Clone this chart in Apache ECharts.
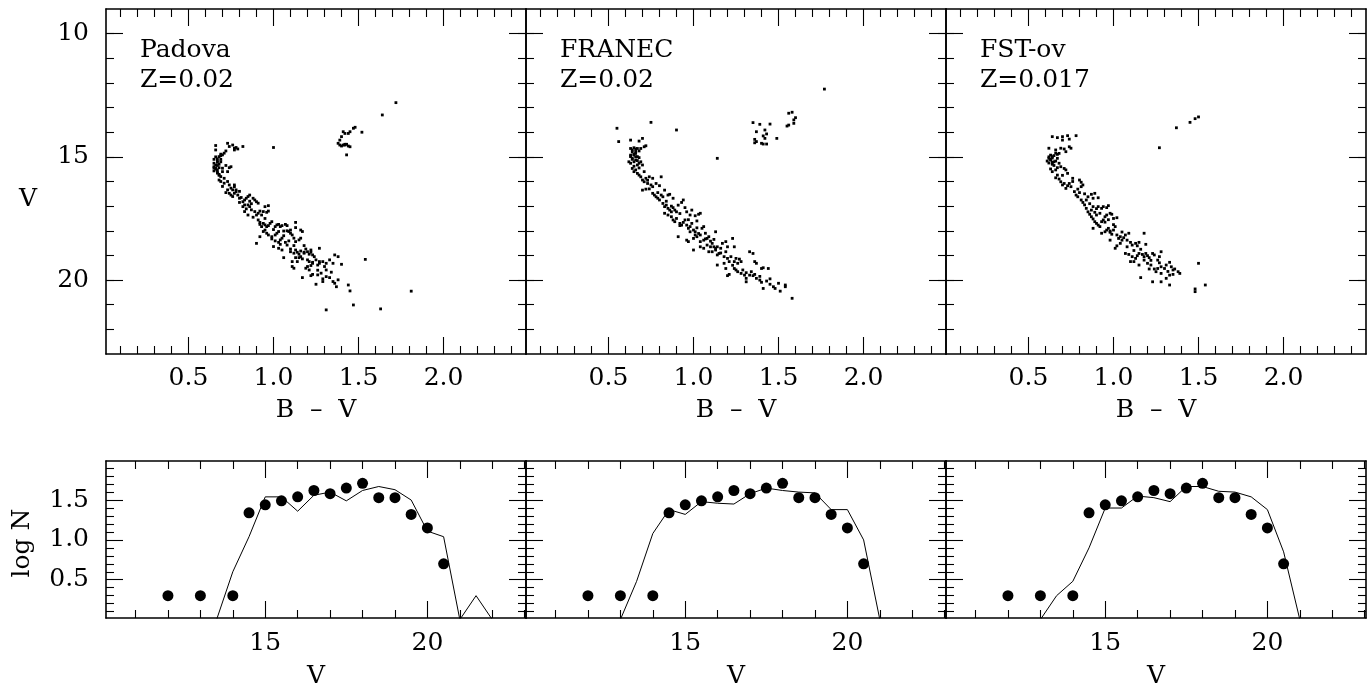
<!DOCTYPE html>
<html>
<head>
<meta charset="utf-8">
<title>CMD and luminosity functions</title>
<script src="https://cdn.jsdelivr.net/npm/echarts@6/dist/echarts.min.js"></script>
<style>
  html, body { margin: 0; padding: 0; background: #fff; }
  #chart { width: 1367px; height: 690px; }
</style>
</head>
<body>
<div id="chart"></div>
<script>
// panel titles
var models = ['Padova', 'FRANEC', 'FST-ov'];
var metals = ['Z=0.02', 'Z=0.02', 'Z=0.017'];

// synthetic CMDs, [B-V, V]
var cmdPadova = [
  [0.66,14.54],[0.66,14.72],[0.73,14.45],[0.74,14.58],[0.76,14.52],[0.77,14.65],[0.77,14.72],[0.78,14.62],[0.79,14.68],[0.82,14.58],
  [0.72,14.76],[0.69,14.89],[0.68,14.99],[0.67,15.08],[0.67,15.17],[0.69,14.95],[0.70,14.92],[0.71,14.85],[0.65,15.26],[0.65,15.40],
  [0.66,15.46],[0.66,15.33],[0.67,15.22],[0.68,15.30],[0.65,15.57],[0.67,15.63],[0.68,15.71],[0.67,15.53],[0.68,15.44],[0.70,15.46],
  [0.72,15.35],[0.74,15.44],[0.75,15.40],[0.73,15.60],[0.69,15.80],[0.68,15.94],[0.69,16.00],[0.71,16.07],[0.71,15.87],[0.73,16.00],
  [0.65,15.10],[0.66,15.00],[0.67,15.35],[0.66,15.50],[0.67,15.66],[0.69,15.20],[0.70,15.60],[0.68,15.75],[0.65,15.45],[0.69,15.10],
  [0.74,16.14],[0.75,16.27],[0.76,16.34],[0.77,16.21],[0.77,16.14],[0.78,16.41],[0.73,16.34],[0.74,16.48],[0.75,16.55],[0.76,16.61],
  [0.77,16.48],[0.78,16.34],[0.79,16.55],[0.80,16.68],[0.81,16.65],[0.82,16.82],[0.83,16.75],[0.84,16.68],[0.85,16.61],[0.86,16.55],
  [0.88,16.68],[0.89,16.75],[0.90,16.82],[0.91,16.88],[0.83,16.95],[0.82,17.02],[0.83,17.22],[0.84,17.11],[0.85,17.36],[0.85,16.95],
  [0.86,17.02],[0.87,17.15],[0.89,17.22],[0.90,17.36],[0.91,17.29],[0.92,17.20],[0.93,17.36],[0.94,17.22],[0.95,17.02],[0.97,16.98],
  [0.96,17.25],[0.97,17.20],[0.91,17.56],[0.92,17.66],[0.92,17.74],[0.93,17.83],[0.94,17.70],[0.95,17.76],[0.96,17.83],[0.97,17.79],
  [0.98,17.70],[0.99,17.63],[1.01,17.83],[1.02,17.76],[1.03,17.74],[1.04,17.83],[1.05,17.79],[1.07,17.74],[1.08,17.79],[1.13,17.66],
  [1.13,17.87],[1.10,17.97],[1.11,18.17],[1.10,18.10],[1.09,18.03],[1.06,18.01],[1.03,18.03],[1.02,18.10],[1.01,18.17],[0.99,18.24],
  [0.99,18.33],[1.01,18.41],[1.03,18.47],[1.04,18.37],[1.05,18.30],[1.07,18.47],[1.08,18.58],[1.09,18.41],[1.12,18.30],[1.13,18.44],
  [1.15,18.37],[1.16,18.30],[1.16,17.97],[1.17,18.03],[0.90,18.51],[0.92,18.24],[0.94,18.03],[0.95,17.97],[0.96,18.10],[0.97,18.17],
  [1.00,18.64],[1.03,18.71],[1.05,18.78],[1.06,19.09],[1.10,18.74],[1.10,18.85],[1.12,18.91],[1.13,18.78],[1.14,18.87],[1.15,18.95],
  [1.16,18.82],[1.18,18.91],[1.18,18.87],[1.19,18.74],[1.20,18.85],[1.21,18.95],[1.22,18.87],[1.23,18.98],[1.17,19.14],[1.16,19.05],
  [1.15,19.09],[1.13,19.09],[1.20,19.18],[1.21,19.25],[1.23,19.28],[1.25,19.18],[1.27,19.25],[1.27,18.71],[1.22,18.78],[1.11,19.25],
  [1.11,19.45],[1.12,19.52],[1.19,19.52],[1.22,19.41],[1.23,19.32],[1.26,19.39],[1.27,19.32],[1.29,19.25],[1.31,19.32],[1.33,19.18],
  [1.36,18.98],[1.38,19.05],[1.40,19.36],[1.35,19.32],[1.34,19.68],[1.31,19.59],[1.28,19.72],[1.26,19.79],[1.23,19.77],[1.21,19.59],
  [1.20,19.45],[1.17,19.90],[1.22,19.82],[1.25,20.17],[1.29,20.06],[1.31,19.86],[1.35,20.06],[1.36,20.13],[1.38,19.99],[1.37,20.27],
  [1.44,20.20],[1.45,20.44],[1.54,19.16],[1.47,21.01],[1.31,21.21],[1.63,21.17],[1.00,14.62],[1.81,20.45],
  [0.70,16.20],[0.72,16.45],[0.80,16.40],[0.87,16.90],[0.88,17.45],[0.95,17.50],[1.00,17.95],[1.06,18.20],[1.08,18.00],[1.12,18.60],
  [1.18,18.60],[1.24,19.05],[1.30,19.45],[1.26,19.60],[1.33,19.90],[1.29,19.95],[0.80,16.85],[0.86,16.80],[1.04,18.55],[1.14,19.25],
  [1.39,14.32],[1.40,14.18],[1.41,13.98],[1.42,14.05],[1.44,14.05],[1.45,13.98],[1.47,13.84],[1.48,13.80],[1.52,14.00],[1.38,14.45],
  [1.39,14.52],[1.40,14.56],[1.42,14.52],[1.43,14.49],[1.44,14.56],[1.45,14.59],[1.43,14.92],[1.41,14.52],[1.42,14.49],[1.64,13.30],
  [1.72,12.80]
];

var cmdFranec = [
  [0.55,13.84],[0.56,14.38],[0.75,13.60],[0.90,13.91],[1.14,15.06],
  [0.63,14.32],[0.68,14.36],[0.70,14.25],[0.63,14.66],[0.64,14.72],[0.65,14.63],[0.66,14.68],[0.67,14.66],[0.68,14.76],[0.69,14.66],
  [0.71,14.59],[0.72,14.55],[0.63,14.93],[0.63,14.99],[0.64,15.06],[0.65,14.93],[0.66,14.86],[0.67,14.99],[0.68,15.03],[0.62,15.20],
  [0.63,15.26],[0.65,15.20],[0.66,15.13],[0.67,15.33],[0.68,15.26],[0.69,15.20],[0.70,15.33],[0.64,15.47],[0.65,15.60],[0.66,15.53],
  [0.64,14.80],[0.65,14.90],[0.66,15.00],[0.64,15.10],[0.67,15.15],[0.65,15.38],[0.66,14.78],[0.68,15.45],
  [0.67,15.67],[0.68,15.74],[0.69,15.81],[0.70,15.94],[0.71,16.01],[0.72,15.87],[0.74,15.81],[0.76,15.87],[0.81,15.81],[0.73,16.08],
  [0.75,16.14],[0.70,16.35],[0.72,16.31],[0.76,16.21],[0.78,16.08],[0.80,16.17],[0.76,16.48],[0.77,16.55],[0.78,16.62],[0.79,16.68],
  [0.80,16.75],[0.81,16.55],[0.82,16.62],[0.83,16.35],[0.85,16.55],[0.86,16.52],[0.88,16.68],[0.82,16.89],[0.83,17.02],[0.84,16.96],
  [0.85,17.09],[0.86,17.16],[0.87,17.23],[0.88,17.06],[0.89,17.16],[0.90,17.23],[0.91,16.96],[0.93,16.85],[0.94,16.75],[0.95,17.06],
  [0.96,17.23],[0.98,17.36],[0.99,17.16],[1.01,17.39],[1.03,17.33],[1.04,17.29],[0.83,17.29],[0.85,17.36],[0.87,17.43],[0.88,17.56],
  [0.89,17.63],[0.90,17.50],[0.92,17.70],[0.93,17.77],[0.94,17.66],[0.95,17.56],[0.96,17.77],[0.97,17.90],[0.98,17.83],[0.99,17.70],
  [1.00,17.97],[1.01,18.04],[1.02,17.88],[1.03,18.11],[1.04,18.17],[1.05,17.90],[1.06,17.83],[0.91,18.24],[0.96,18.38],[0.97,18.44],
  [1.00,18.31],[1.01,18.17],[1.02,18.24],[1.04,18.44],[1.06,18.38],[1.07,18.33],[1.08,18.31],[1.09,18.24],[1.10,18.42],[1.11,18.51],
  [1.12,18.65],[1.13,18.71],[1.13,18.78],[1.14,18.65],[1.13,18.04],[1.10,18.65],[1.11,18.85],[1.08,18.58],[1.06,18.71],[1.09,18.85],
  [1.14,18.98],[1.15,18.92],[1.16,18.71],[1.17,18.51],[1.19,18.44],[1.20,18.65],[1.19,18.85],[1.23,18.31],[1.24,18.65],[1.20,19.12],
  [1.21,19.25],[1.22,19.05],[1.24,19.25],[1.25,19.12],[1.27,19.15],[1.28,19.25],[1.26,19.32],[1.18,19.32],[1.19,19.53],[1.21,19.77],
  [1.24,19.53],[1.25,19.59],[1.26,19.66],[1.28,19.73],[1.29,19.59],[1.30,19.80],[1.31,19.93],[1.33,19.80],[1.34,19.66],[1.35,19.82],
  [1.36,19.77],[1.33,18.85],[1.35,18.92],[1.36,19.25],[1.37,19.32],[1.40,19.53],[1.41,19.50],[1.44,19.53],[1.37,19.93],[1.39,20.00],
  [1.40,20.09],[1.43,20.04],[1.45,20.17],[1.47,20.27],[1.48,20.34],[1.50,20.13],[1.54,20.20],[1.54,20.27],[1.41,20.34],[1.51,20.45],
  [1.58,20.74],[1.31,20.07],[1.20,19.82],[1.14,19.39],[1.04,18.65],[1.00,18.78],[0.98,18.04],[0.92,17.79],
  [0.74,16.30],[0.79,16.45],[0.84,16.80],[0.92,17.30],[0.97,17.55],[1.07,18.10],[1.12,18.35],[1.16,18.90],[1.23,19.40],[1.31,19.70],
  [1.39,19.85],[1.45,19.95],[0.87,17.00],[1.02,17.60],[1.18,19.05],[0.71,15.60],[0.73,15.95],
  [1.35,13.61],[1.39,13.68],[1.45,13.67],[1.37,13.98],[1.42,13.91],[1.43,14.07],[1.41,14.15],[1.42,14.25],[1.36,14.29],[1.37,14.38],
  [1.36,14.43],[1.40,14.45],[1.41,14.48],[1.43,14.48],[1.49,14.25],[1.55,13.75],[1.56,13.71],[1.59,13.64],[1.59,13.50],[1.60,13.41],
  [1.56,13.23],[1.58,13.19],[1.77,12.25]
];

var cmdFstov = [
  [0.64,14.18],[0.67,14.22],[0.70,14.32],[0.70,14.18],[0.73,14.14],[0.74,14.28],[0.78,14.14],[0.74,14.59],[0.75,14.65],[0.72,14.79],
  [0.71,14.68],[0.69,14.65],[0.68,14.86],[0.67,14.90],[0.66,14.72],[0.65,14.95],[0.64,14.99],[0.63,14.93],[0.62,14.65],[0.62,15.06],
  [0.61,15.17],[0.63,15.13],[0.64,15.22],[0.66,15.17],[0.67,15.06],[0.68,15.26],[0.64,15.30],[0.63,15.49],[0.64,15.60],[0.66,15.53],
  [0.62,15.00],[0.63,15.10],[0.64,15.05],[0.65,15.20],[0.62,15.25],[0.66,14.85],[0.65,15.35],
  [0.67,15.44],[0.69,15.40],[0.71,15.47],[0.72,15.53],[0.73,15.67],[0.67,15.74],[0.66,15.85],[0.68,15.90],[0.69,16.01],[0.70,16.14],
  [0.71,16.08],[0.73,16.17],[0.74,16.08],[0.76,15.87],[0.75,16.21],[0.72,16.28],[0.80,15.94],[0.81,16.03],[0.81,16.21],[0.82,16.14],
  [0.79,16.31],[0.77,16.41],[0.78,16.55],[0.79,16.62],[0.81,16.75],[0.82,16.85],[0.83,16.95],[0.84,16.75],[0.85,16.62],[0.87,16.52],
  [0.88,16.68],[0.89,16.48],[0.91,16.66],[0.84,17.09],[0.85,17.23],[0.86,17.33],[0.87,17.16],[0.88,17.02],[0.89,17.25],[0.90,17.36],
  [0.92,17.29],[0.93,17.09],[0.94,17.02],[0.96,17.06],[0.97,16.98],[0.91,17.02],[0.87,17.43],[0.88,17.52],[0.89,17.63],[0.90,17.70],
  [0.91,17.77],[0.92,17.83],[0.93,17.63],[0.94,17.56],[0.95,17.43],[0.96,17.36],[0.98,17.29],[0.99,17.33],[1.00,17.50],[1.02,17.47],
  [0.88,17.90],[0.93,18.10],[0.95,18.04],[0.96,17.97],[0.97,17.90],[0.98,18.01],[0.98,18.06],[0.99,18.14],[1.00,17.97],[1.01,17.83],
  [1.02,18.17],[1.03,18.31],[1.04,18.51],[1.05,18.38],[1.06,18.28],[1.07,18.17],[1.09,18.10],[1.08,18.38],[1.10,18.47],[1.11,18.58],
  [1.13,18.51],[1.14,18.61],[1.15,18.47],[0.98,18.38],[1.01,18.71],[1.02,18.61],[1.04,18.24],[1.18,18.10],[1.19,18.55],[1.07,18.92],
  [1.09,18.96],[1.11,19.05],[1.12,19.25],[1.13,19.12],[1.14,19.01],[1.15,18.92],[1.17,18.96],[1.18,19.05],[1.19,18.92],[1.20,19.01],
  [1.21,19.09],[1.23,18.92],[1.24,18.98],[1.26,19.19],[1.27,19.05],[1.28,18.85],[1.10,19.25],[1.15,19.39],[1.18,19.19],[1.20,19.32],
  [1.22,19.39],[1.24,19.55],[1.26,19.53],[1.28,19.46],[1.30,19.53],[1.31,19.39],[1.33,19.28],[1.34,19.46],[1.35,19.59],[1.36,19.55],
  [1.38,19.66],[1.39,19.73],[1.28,19.73],[1.25,19.66],[1.21,19.55],[1.16,19.90],[1.23,20.07],[1.28,20.07],[1.31,19.93],[1.33,19.80],
  [1.35,19.77],[1.33,20.20],[1.50,19.32],[1.54,20.20],[1.48,20.36],[1.48,20.47],[1.27,14.63],[1.37,13.82],[1.45,13.60],[1.48,13.45],
  [1.50,13.38],
  [0.70,15.75],[0.76,16.00],[0.80,16.45],[0.86,16.90],[0.90,17.10],[0.95,17.65],[1.00,17.75],[1.05,18.05],[1.08,18.65],[1.12,18.80],
  [1.16,18.75],[1.22,19.20],[1.27,19.30],[1.32,19.65],[0.83,16.50],[0.97,17.55]
];

// luminosity functions: observed (dots, same in all panels)
var lfBins = [12, 13, 14, 14.5, 15, 15.5, 16, 16.5, 17, 17.5, 18, 18.5, 19, 19.5, 20, 20.5];
var lfObserved = [0.30, 0.30, 0.30, 1.34, 1.44, 1.49, 1.54, 1.62, 1.58, 1.65, 1.71, 1.53, 1.53, 1.32, 1.15, 0.70];

// model luminosity functions (lines)
var lfModelV = [13, 13.5, 14, 14.5, 15, 15.5, 16, 16.5, 17, 17.5, 18, 18.5, 19, 19.5, 20, 20.5, 21, 21.5, 22];
var lfPadova = [null, 0, 0.60, 1.04, 1.54, 1.54, 1.36, 1.56, 1.60, 1.49, 1.62, 1.67, 1.63, 1.50, 1.11, 1.04, 0, 0.30, 0];
var lfFranec = [0, 0.48, 1.08, 1.38, 1.32, 1.48, 1.46, 1.45, 1.58, 1.65, 1.62, 1.60, 1.59, 1.38, 1.38, 1.00, 0, null, null];
var lfFstov = [0, 0.30, 0.48, 0.90, 1.40, 1.40, 1.55, 1.53, 1.48, 1.67, 1.67, 1.61, 1.60, 1.54, 1.38, 0.85, 0, null, null];

// tick positions
var cmdMajorX = [0.5, 1.0, 1.5, 2.0];
var cmdMinorX = [0.1, 0.2, 0.3, 0.4, 0.6, 0.7, 0.8, 0.9, 1.1, 1.2, 1.3, 1.4, 1.6, 1.7, 1.8, 1.9, 2.1, 2.2, 2.3, 2.4];
var cmdMajorY = [10, 15, 20];
var cmdMinorY = [10, 11, 12, 13, 14, 15, 16, 17, 18, 19, 20, 21, 22];
var lfMajorX = [15, 20];
var lfMinorX = [11, 12, 13, 14, 16, 17, 18, 19, 21, 22, 23];
var lfMajorY = [0.5, 1.0, 1.5];
var lfMinorY = [0.1, 0.2, 0.3, 0.4, 0.6, 0.7, 0.8, 0.9, 1.1, 1.2, 1.3, 1.4, 1.6, 1.7, 1.8, 1.9];

var cmdSets = [cmdPadova, cmdFranec, cmdFstov];
var lfModels = [lfPadova, lfFranec, lfFstov];

var FONT = 'DejaVu Serif';
var ink = '#000';
var panelLeft = [106, 526, 946];
var panelW = 420;

var grids = [], xAxes = [], yAxes = [], series = [], graphics = [];

function fmt1(v) { return v.toFixed(1); }
function fmt0(v) { return String(v); }

// major + minor tick axes, on both opposite sides of the box
function addAxes(list, gi, dim, range, major, minor, labels, fmt, margin, name, nameGap, inverse) {
  var first = dim === 'x' ? 'bottom' : 'left';
  var second = dim === 'x' ? 'top' : 'right';
  [first, second].forEach(function (pos) {
    list.push({
      type: 'value', gridIndex: gi, position: pos, min: range[0], max: range[1], inverse: !!inverse,
      axisLine: { show: true, onZero: false, lineStyle: { color: ink, width: 1.6 } },
      axisTick: { show: true, inside: true, length: 17, customValues: major, lineStyle: { color: ink, width: 1.1 } },
      axisLabel: {
        show: labels && pos === first, customValues: major, formatter: fmt, margin: margin,
        fontFamily: FONT, fontSize: 25, color: ink
      },
      splitLine: { show: false },
      name: pos === first ? name : '',
      nameLocation: 'middle', nameGap: nameGap,
      nameTextStyle: { fontFamily: FONT, fontSize: 25, color: ink }
    });
    list.push({
      type: 'value', gridIndex: gi, position: pos, min: range[0], max: range[1], inverse: !!inverse,
      axisLine: { show: false },
      axisTick: { show: true, inside: true, length: 8, customValues: minor, lineStyle: { color: ink, width: 1.1 } },
      axisLabel: { show: false },
      splitLine: { show: false }
    });
  });
}

for (var i = 0; i < 3; i++) {
  var gTop = i * 2, gBot = i * 2 + 1;
  grids.push({ left: panelLeft[i], top: 9, width: panelW, height: 345 });
  grids.push({ left: panelLeft[i], top: 461, width: panelW, height: 163 });

  addAxes(xAxes, gTop, 'x', [0.015, 2.485], cmdMajorX, cmdMinorX, true, fmt1, 12, 'B  \u2013  V', 44);
  addAxes(yAxes, gTop, 'y', [9, 23], cmdMajorY, cmdMinorY, i === 0, fmt0, 17, '', 0, true);
  addAxes(xAxes, gBot, 'x', [10.09, 23.04], lfMajorX, lfMinorX, true, fmt0, 13, 'V', 46);
  addAxes(yAxes, gBot, 'y', [0.02, 1.99], lfMajorY, lfMinorY, i === 0, fmt1, 17, '', 0);

  // colour-magnitude diagram
  series.push({
    type: 'scatter', xAxisIndex: gTop * 4, yAxisIndex: gTop * 4,
    data: cmdSets[i], symbol: 'rect', symbolSize: 2.8,
    itemStyle: { color: ink, opacity: 1 }, silent: true
  });
  // model luminosity function
  series.push({
    type: 'line', xAxisIndex: gBot * 4, yAxisIndex: gBot * 4,
    data: lfModelV.map(function (v, k) { return [v, lfModels[i][k]]; }),
    showSymbol: false, symbol: 'none', connectNulls: false, clip: true,
    lineStyle: { color: ink, width: 1 }, silent: true
  });
  // observed luminosity function
  series.push({
    type: 'scatter', xAxisIndex: gBot * 4, yAxisIndex: gBot * 4,
    data: lfBins.map(function (v, k) { return [v, lfObserved[k]]; }),
    symbol: 'circle', symbolSize: 11,
    itemStyle: { color: ink, opacity: 1 }, silent: true
  });

  graphics.push({
    type: 'text', left: panelLeft[i] + 34, top: 35,
    style: { text: models[i] + '\n' + metals[i], font: '25px "' + FONT + '"', fill: ink, lineHeight: 30 }
  });
}

// y-axis titles of the left column
graphics.push({
  type: 'text', x: 28, y: 199,
  style: { text: 'V', font: '25px "' + FONT + '"', fill: ink, align: 'center', verticalAlign: 'middle' }
});
graphics.push({
  type: 'text', x: 22, y: 543, rotation: Math.PI / 2,
  style: { text: 'log N', font: '25px "' + FONT + '"', fill: ink, align: 'center', verticalAlign: 'middle' }
});

var chart = echarts.init(document.getElementById('chart'), null, { renderer: 'canvas' });
chart.setOption({
  animation: false,
  backgroundColor: '#fff',
  grid: grids,
  xAxis: xAxes,
  yAxis: yAxes,
  series: series,
  graphic: graphics
});
</script>
</body>
</html>
